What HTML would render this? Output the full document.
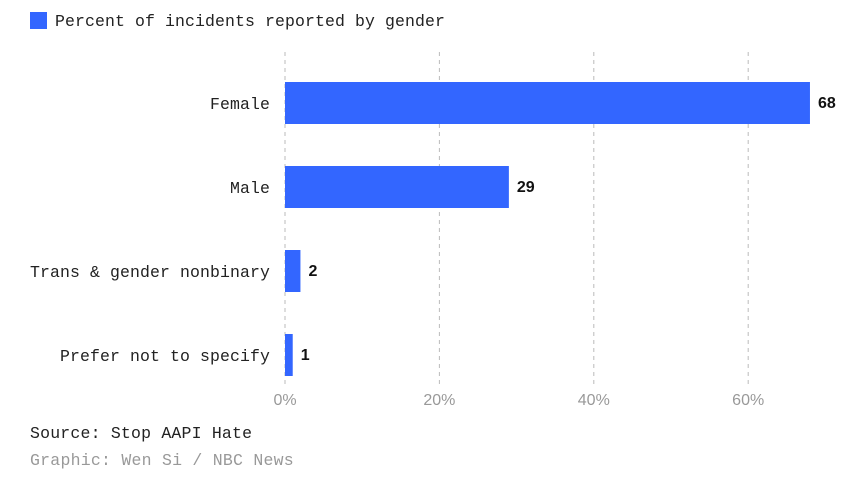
<!DOCTYPE html>
<html><head><meta charset="utf-8"><style>
body{margin:0;background:#fff;width:867px;height:477px;overflow:hidden}
svg text{font-family:"Liberation Mono",monospace}
</style></head><body>
<svg id="chart" width="867" height="477">
<rect x="30" y="12" width="17" height="17" fill="#3366ff"/>
<text x="55" y="26" font-size="16.5" letter-spacing="0.1" fill="#222">Percent of incidents reported by gender</text>
<g id="grid"></g><g id="bars"></g>
<text x="30" y="438" font-size="16.5" letter-spacing="0.2" fill="#222">Source: Stop AAPI Hate</text>
<text x="30" y="465" font-size="16.5" letter-spacing="0.25" fill="#999">Graphic: Wen Si / NBC News</text>
</svg>
<script>
const categories=["Female","Male","Trans & gender nonbinary","Prefer not to specify"];
const values=[68,29,2,1];
const ticks=[0,20,40,60];
const ns="http://www.w3.org/2000/svg";
const x=v=>285+v*7.72;
const y=i=>82+i*84;
const g=document.getElementById('grid'),b=document.getElementById('bars');
function mk(t,a,p){const e=document.createElementNS(ns,t);for(const k in a)e.setAttribute(k,a[k]);p.appendChild(e);return e;}
ticks.forEach(t=>{
const l=mk('line',{x1:x(t),x2:x(t),y1:52,y2:386,stroke:'#bbb','stroke-dasharray':'4,4'},g);


const tx=mk('text',{x:x(t),y:405,'font-size':16,'text-anchor':'middle',fill:'#999',style:'font-family:"Liberation Sans",sans-serif'},g);
tx.textContent=t+'%';


});
categories.forEach((c,i)=>{
const r=mk('rect',{x:x(0),y:y(i),width:x(values[i])-x(0),height:42,fill:'#3366ff'},b);


const cl=mk('text',{x:270,y:y(i)+27,'font-size':16.5,'letter-spacing':0.1,'text-anchor':'end',fill:'#222'},b);
cl.textContent=c;


const vl=mk('text',{x:x(values[i])+8,y:y(i)+26,'font-size':16,'font-weight':'bold',fill:'#111',style:'font-family:"Liberation Sans",sans-serif'},b);
vl.textContent=values[i];


});
</script>
</body></html>
